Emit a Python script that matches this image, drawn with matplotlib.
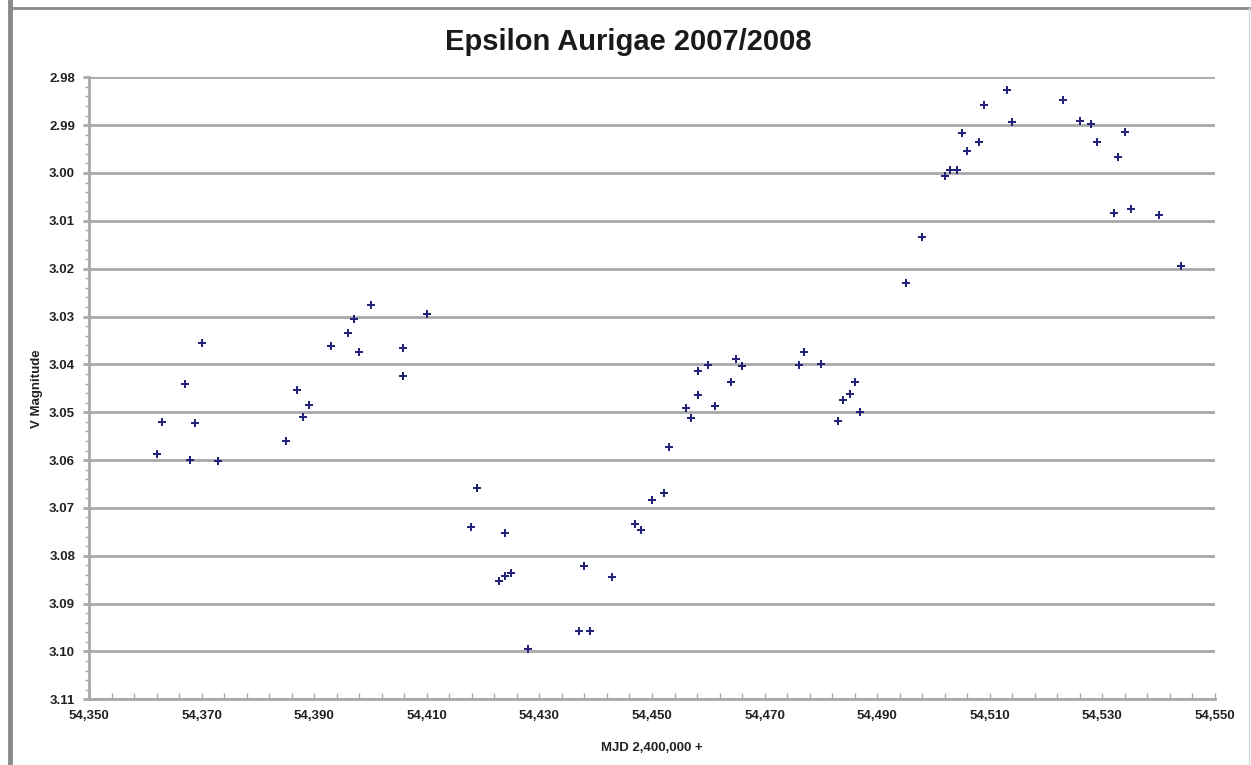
import numpy as np
import matplotlib
matplotlib.use("Agg")
import matplotlib.pyplot as plt
from matplotlib.ticker import MultipleLocator, FuncFormatter
from matplotlib.lines import Line2D

plt.rcParams['font.family'] = ['Liberation Sans', 'DejaVu Sans']

# MJD 2,400,000 + and V magnitude
mjd = [54362.0, 54363.0, 54367.1, 54368.0, 54368.9, 54370.0, 54373.0,
       54385.0, 54386.9, 54388.0, 54389.0, 54392.9, 54396.0, 54397.1,
       54398.0, 54400.0, 54405.8, 54405.8, 54410.0,
       54417.9, 54418.9, 54422.8, 54423.9, 54423.9, 54425.0, 54428.0,
       54437.0, 54437.9, 54439.0, 54442.9, 54447.0, 54448.0, 54450.0,
       54452.1, 54453.0,
       54456.0, 54457.0, 54458.1, 54458.2, 54460.0, 54461.2, 54464.1,
       54465.0, 54466.0, 54476.1, 54477.0, 54480.0, 54483.0, 54484.0,
       54485.1, 54486.1, 54487.0,
       54495.1, 54498.0, 54502.0, 54503.0, 54504.1, 54505.0, 54506.0,
       54508.0, 54509.0, 54513.0, 54514.0, 54523.0, 54526.0, 54528.0,
       54529.0, 54532.0, 54532.8, 54534.0, 54535.0, 54540.1, 54544.0]
vmag = [3.0588, 3.0520, 3.0442, 3.0600, 3.0522, 3.0356, 3.0601,
        3.0561, 3.0454, 3.0510, 3.0485, 3.0362, 3.0335, 3.0305,
        3.0374, 3.0276, 3.0365, 3.0425, 3.0294,
        3.0740, 3.0659, 3.0853, 3.0843, 3.0753, 3.0837, 3.0995,
        3.0958, 3.0822, 3.0958, 3.0845, 3.0734, 3.0747, 3.0684,
        3.0669, 3.0573,
        3.0491, 3.0513, 3.0463, 3.0413, 3.0402, 3.0486, 3.0436,
        3.0389, 3.0404, 3.0402, 3.0374, 3.0400, 3.0518, 3.0474,
        3.0461, 3.0436, 3.0500,
        3.0229, 3.0133, 3.0006, 2.9994, 2.9994, 2.9916, 2.9953,
        2.9936, 2.9858, 2.9827, 2.9893, 2.9847, 2.9891, 2.9898,
        2.9935, 3.0084, 2.9967, 2.9914, 3.0076, 3.0087, 3.0195]

x_major = np.arange(54350, 54551, 20)
x_minor = np.arange(54350, 54551, 4)

fig = plt.figure(figsize=(12.51, 7.65), dpi=100)
ax = fig.add_axes([89/1251, 1-699.3/765, (1215-89)/1251, (699.3-77.3)/765])

gcol = '#a8a8a8'
ax.plot(mjd, vmag, linestyle='none', marker='P', markersize=6,
        color='#23237a', markeredgewidth=0, zorder=3)

ax.set_xlim(54350, 54550)
ax.set_ylim(3.11, 2.98)

ax.set_xticks(x_major)
ax.set_xticks(x_minor, minor=True)
ax.yaxis.set_major_locator(MultipleLocator(0.01))
ax.yaxis.set_minor_locator(MultipleLocator(0.002))
ax.xaxis.set_major_formatter(FuncFormatter(lambda v, p: '{:,.0f}'.format(v)))
ax.yaxis.set_major_formatter(FuncFormatter(lambda v, p: '{:.2f}'.format(v)))

ax.grid(axis='y', which='major', color=gcol, linewidth=2)
ax.set_axisbelow(True)

for s in ['top', 'right']:
    ax.spines[s].set_visible(False)
for s in ['left', 'bottom']:
    ax.spines[s].set_color(gcol)
    ax.spines[s].set_linewidth(2)

ax.tick_params(axis='x', which='both', direction='in', length=4, width=1,
               color=gcol, pad=8, labelsize=9.5)
ax.tick_params(axis='y', which='major', direction='out', length=4, width=2,
               color=gcol, pad=6, labelsize=9.5)
ax.tick_params(axis='y', which='minor', direction='out', length=3, width=1,
               color=gcol)
for lab in ax.get_xticklabels() + ax.get_yticklabels():
    lab.set_fontweight('bold')
    lab.set_color('#222222')

ax.set_xlabel('MJD 2,400,000 +', fontsize=9.5, fontweight='bold', labelpad=14, color='#222222')
ax.set_ylabel('V Magnitude', fontsize=9.5, fontweight='bold', labelpad=4, color='#222222')

fig.text(628/1251, 1-42/765, 'Epsilon Aurigae 2007/2008', ha='center', va='center',
         fontsize=21, fontweight='bold', color='#1a1a1a')

# screenshot frame
fig.add_artist(Line2D([10/1251, 10/1251], [0, 1], color='#8a8a8a', linewidth=3.5))
fig.add_artist(Line2D([10/1251, 1], [1-8/765, 1-8/765], color='#8a8a8a', linewidth=2))
fig.add_artist(Line2D([1249/1251, 1249/1251], [0, 1-8/765], color='#d8d8d8', linewidth=1))

fig.savefig('out.png', dpi=100)
